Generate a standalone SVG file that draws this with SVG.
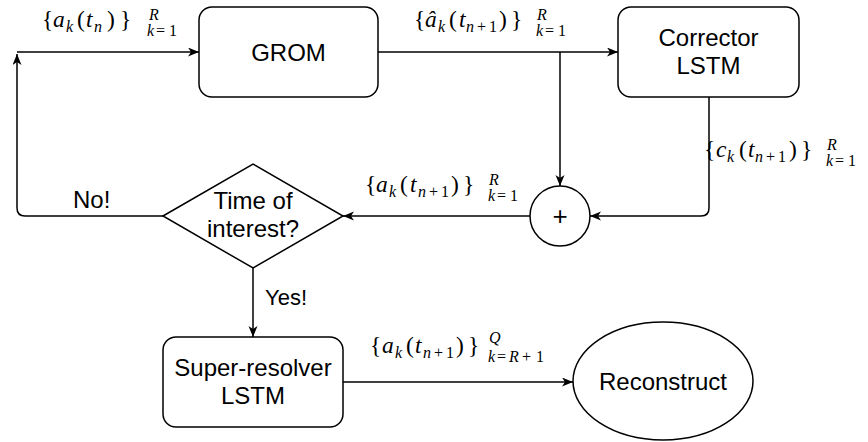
<svg xmlns="http://www.w3.org/2000/svg" width="868" height="442" viewBox="0 0 868 442">
<style>
.box{fill:#fff;stroke:#000;stroke-width:1.5}
.lbl{font-family:"Liberation Sans",Arial,sans-serif;font-size:24px;fill:#000}
.ctr{text-anchor:middle}
.edge{fill:none;stroke:#000;stroke-width:1.5;marker-end:url(#arr)}
.math{font-family:'Liberation Serif','DejaVu Serif',serif;font-size:23.5px;fill:#000}
.math .i{font-style:italic}
.math .s{font-size:16px}
</style>
<defs>
<marker id="arr" markerUnits="userSpaceOnUse" markerWidth="12" markerHeight="10" refX="11" refY="4.5" orient="auto">
<path d="M0,0 L11,4.5 L0,9 L3,4.5 Z" fill="#000"/>
</marker>
</defs>
<rect width="868" height="442" fill="#fff"/>
<g id="connectors">
<path class="edge" d="M17,52 H199"/>
<path class="edge" d="M378,52 H618"/>
<path class="edge" d="M560,52 V186"/>
<path class="edge" d="M709,97 V208 Q709,216 701,216 H590"/>
<path class="edge" d="M530,216 H343"/>
<path class="edge" d="M163,216 H25 Q17,216 17,208 V54"/>
<path class="edge" d="M253,268 V337"/>
<path class="edge" d="M343,382 H573"/>
</g>
<g id="edge-labels" class="math">
<text><tspan x="42" y="27">{</tspan><tspan class="i" x="53" y="27">a</tspan><tspan class="i s" x="66" y="31.5">k</tspan><tspan x="77" y="27">(</tspan><tspan class="i" x="86" y="27">t</tspan><tspan class="i s" x="94" y="31.5">n</tspan><tspan x="107" y="27">)</tspan><tspan x="120" y="27">}</tspan><tspan class="i s" x="149" y="20">R</tspan><tspan class="i s" x="147" y="36">k</tspan><tspan class="s" x="156" y="36">=</tspan><tspan class="s" x="169" y="36">1</tspan></text>
<text><tspan x="414" y="27">{</tspan><tspan class="i" x="425" y="27">â</tspan><tspan class="i s" x="438" y="31.5">k</tspan><tspan x="449" y="27">(</tspan><tspan class="i" x="459" y="27">t</tspan><tspan class="i s" x="466" y="31.5">n</tspan><tspan class="s" x="477" y="31.5">+</tspan><tspan class="s" x="489" y="31.5">1</tspan><tspan x="499" y="27">)</tspan><tspan x="511" y="27">}</tspan><tspan class="i s" x="537" y="20">R</tspan><tspan class="i s" x="536" y="36">k</tspan><tspan class="s" x="545" y="36">=</tspan><tspan class="s" x="558" y="36">1</tspan></text>
<text><tspan x="704" y="157">{</tspan><tspan class="i" x="716" y="157">c</tspan><tspan class="i s" x="727" y="161.5">k</tspan><tspan x="739" y="157">(</tspan><tspan class="i" x="748" y="157">t</tspan><tspan class="i s" x="755" y="161.5">n</tspan><tspan class="s" x="766" y="161.5">+</tspan><tspan class="s" x="778" y="161.5">1</tspan><tspan x="789" y="157">)</tspan><tspan x="801" y="157">}</tspan><tspan class="i s" x="827" y="150">R</tspan><tspan class="i s" x="826" y="166">k</tspan><tspan class="s" x="835" y="166">=</tspan><tspan class="s" x="848" y="166">1</tspan></text>
<text><tspan x="365" y="192">{</tspan><tspan class="i" x="376" y="192">a</tspan><tspan class="i s" x="389" y="196.5">k</tspan><tspan x="400" y="192">(</tspan><tspan class="i" x="410" y="192">t</tspan><tspan class="i s" x="418" y="196.5">n</tspan><tspan class="s" x="429" y="196.5">+</tspan><tspan class="s" x="441" y="196.5">1</tspan><tspan x="451" y="192">)</tspan><tspan x="463" y="192">}</tspan><tspan class="i s" x="489" y="185">R</tspan><tspan class="i s" x="488" y="201">k</tspan><tspan class="s" x="497" y="201">=</tspan><tspan class="s" x="510" y="201">1</tspan></text>
<text><tspan x="370" y="353">{</tspan><tspan class="i" x="382" y="353">a</tspan><tspan class="i s" x="395" y="357.5">k</tspan><tspan x="406" y="353">(</tspan><tspan class="i" x="415" y="353">t</tspan><tspan class="i s" x="423" y="357.5">n</tspan><tspan class="s" x="434" y="357.5">+</tspan><tspan class="s" x="446" y="357.5">1</tspan><tspan x="456" y="353">)</tspan><tspan x="468" y="353">}</tspan><tspan class="i s" x="489" y="343">Q</tspan><tspan class="i s" x="488" y="362">k</tspan><tspan class="s" x="497" y="362">=</tspan><tspan class="i s" x="509" y="362">R</tspan><tspan class="s" x="522" y="362">+</tspan><tspan class="s" x="536" y="362">1</tspan></text>
</g>
<g id="edge-text">
<text class="lbl" x="73" y="208">No!</text>
<text class="lbl" x="265" y="305" style="font-size:22px">Yes!</text>
</g>
<g id="grom">
<rect class="box" x="199" y="7" width="179" height="90" rx="13"/>
<text class="lbl ctr" x="288.5" y="60.5">GROM</text>
</g>
<g id="corrector">
<rect class="box" x="618" y="7" width="181" height="90" rx="13"/>
<text class="lbl ctr" x="708.5" y="46">Corrector</text>
<text class="lbl ctr" x="708.5" y="74">LSTM</text>
</g>
<g id="plus">
<circle class="box" cx="560" cy="216" r="30"/>
<text class="lbl ctr" x="560" y="225" style="font-size:26px">+</text>
</g>
<g id="decision">
<polygon class="box" points="163,216 253,164 343,216 253,268"/>
<text class="lbl ctr" x="253" y="209">Time of</text>
<text class="lbl ctr" x="253" y="237">interest?</text>
</g>
<g id="super-resolver">
<rect class="box" x="163" y="337" width="180" height="90" rx="13"/>
<text class="lbl ctr" x="253" y="376">Super-resolver</text>
<text class="lbl ctr" x="253" y="404">LSTM</text>
</g>
<g id="reconstruct">
<ellipse class="box" cx="663" cy="381" rx="90" ry="59"/>
<text class="lbl ctr" x="663" y="389.5">Reconstruct</text>
</g>
</svg>
